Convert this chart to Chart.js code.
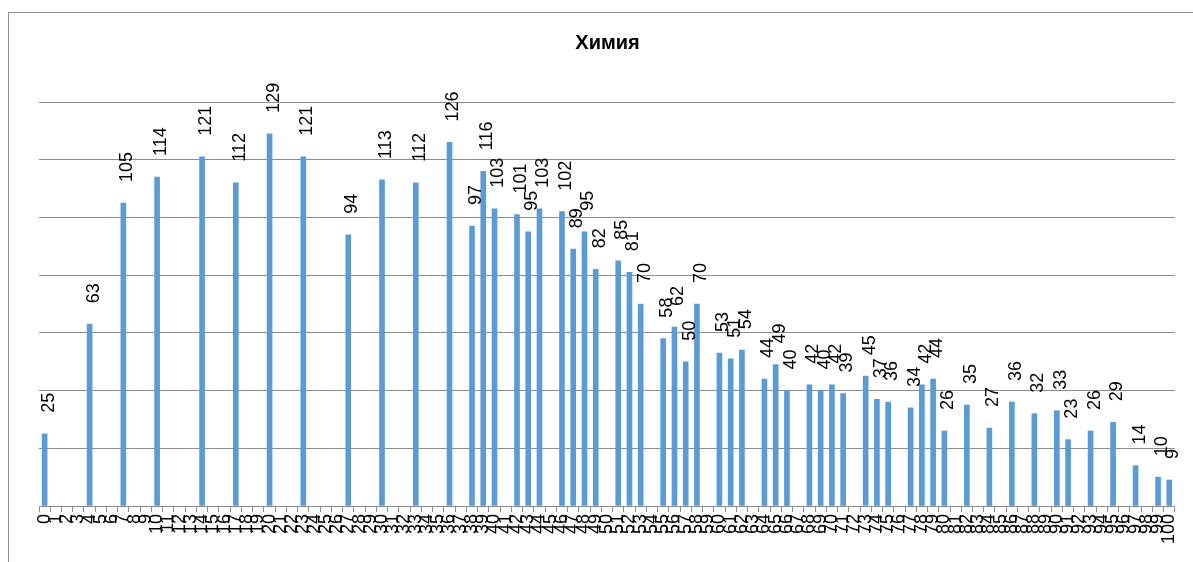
<!DOCTYPE html>
<html lang="ru">
<head>
  <meta charset="UTF-8">
  <title>Химия</title>
  <script src="https://cdn.jsdelivr.net/npm/chart.js"></script>
  <style>
    body {
      margin: 0;
      background: #fff;
      overflow: hidden;
    }
    .frame {
      position: absolute;
      left: 8px;
      top: 12px;
      width: 1400px;
      height: 800px;
      border: 1px solid #8e8e8e;
    }
    .wrap {
      position: absolute;
      left: 0;
      top: 0;
      width: 1193px;
      height: 562px;
    }
  </style>
</head>
<body>
  <div class="frame"></div>
  <div class="wrap"><canvas id="chart"></canvas></div>

  <script>
    const categories = [
      '0','1','2','3','4','5','6','7','8','9',
      '10','11','12','13','14','15','16','17','18','19',
      '20','21','22','23','24','25','26','27','28','29',
      '30','31','32','33','34','35','36','37','38','39',
      '40','41','42','43','44','45','46','47','48','49',
      '50','51','52','53','54','55','56','57','58','59',
      '60','61','62','63','64','65','66','67','68','69',
      '70','71','72','73','74','75','76','77','78','79',
      '80','81','82','83','84','85','86','87','88','89',
      '90','91','92','93','94','95','96','97','98','99',
      '100'
    ];

    const scores = [
      25, null, null, null, 63, null, null, 105, null, null,
      114, null, null, null, 121, null, null, 112, null, null,
      129, null, null, 121, null, null, null, 94, null, null,
      113, null, null, 112, null, null, 126, null, 97, 116,
      103, null, 101, 95, 103, null, 102, 89, 95, 82,
      null, 85, 81, 70, null, 58, 62, 50, 70, null,
      53, 51, 54, null, 44, 49, 40, null, 42, 40,
      42, 39, null, 45, 37, 36, null, 34, 42, 44,
      26, null, 35, null, 27, null, 36, null, 32, null,
      33, 23, null, 26, null, 29, null, 14, null, 10,
      9
    ];

    const yTicks = { min: 0, max: 140, step: 20 };

    const fontFamily = '"Liberation Sans", Arial, sans-serif';

    // value labels above each bar, turned to read bottom-up
    const barLabels = {
      id: 'barLabels',
      afterDatasetsDraw(chart) {
        const ctx = chart.ctx;
        const meta = chart.getDatasetMeta(0);
        ctx.save();
        ctx.font = '18px ' + fontFamily;
        ctx.fillStyle = '#000';
        ctx.textAlign = 'left';
        ctx.textBaseline = 'middle';
        meta.data.forEach((bar, i) => {
          const v = scores[i];
          if (v == null) return;
          ctx.save();
          ctx.translate(bar.x + 4, bar.y - 21);
          ctx.rotate(-Math.PI / 2);
          ctx.fillText(String(v), 0, 0);
          ctx.restore();
        });
        ctx.restore();
      }
    };

    new Chart(document.getElementById('chart'), {
      type: 'bar',
      data: {
        labels: categories,
        datasets: [{
          data: scores,
          backgroundColor: '#5b9bd5',
          barThickness: 5
        }]
      },
      options: {
        responsive: true,
        maintainAspectRatio: false,
        animation: false,
        layout: { padding: { left: 39, right: 17, top: 0, bottom: 0 } },
        plugins: {
          legend: { display: false },
          tooltip: { enabled: false },
          title: {
            display: true,
            text: 'Химия',
            color: '#000',
            font: { family: fontFamily, size: 20, weight: 'bold' },
            padding: { top: 31, bottom: 47 }
          }
        },
        scales: {
          x: {
            afterFit(scale) { scale.height = 56; },
            grid: {
              display: true,
              drawOnChartArea: false,
              drawTicks: true,
              tickLength: 6,
              color: '#8c8c8c',
              offset: true
            },
            border: { display: true, color: '#8c8c8c' },
            ticks: {
              autoSkip: false,
              minRotation: 90,
              maxRotation: 90,
              padding: 2,
              color: '#000',
              font: { family: fontFamily, size: 18 }
            }
          },
          y: {
            min: yTicks.min,
            max: yTicks.max,
            ticks: { display: false, stepSize: yTicks.step },
            grid: { color: '#8c8c8c', drawTicks: false },
            border: { display: false }
          }
        }
      },
      plugins: [barLabels]
    });
  </script>
</body>
</html>
